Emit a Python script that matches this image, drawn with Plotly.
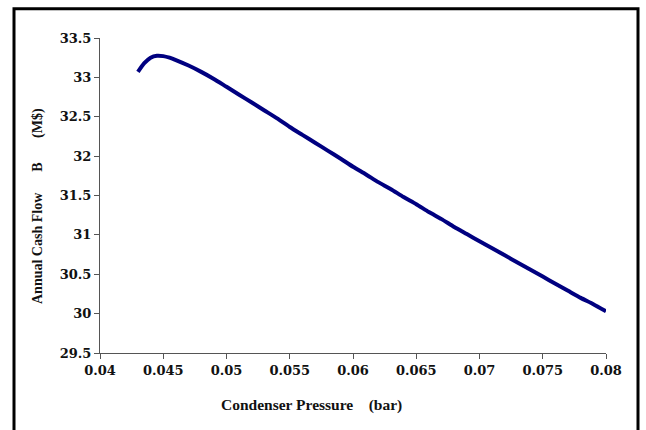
import plotly.graph_objects as go

# Data
pressure_bar = [0.0430, 0.0435, 0.0440, 0.0445, 0.0450, 0.0455, 0.0460, 0.0470, 0.0480,
                0.0490, 0.0500, 0.0510, 0.0520, 0.0530, 0.0540, 0.0550, 0.0560, 0.0570,
                0.0580, 0.0590, 0.0600, 0.0610, 0.0620, 0.0630, 0.0640, 0.0650, 0.0660,
                0.0670, 0.0680, 0.0690, 0.0700, 0.0710, 0.0720, 0.0730, 0.0740, 0.0750,
                0.0760, 0.0770, 0.0780, 0.0790, 0.0800]
cash_flow_musd = [33.07, 33.18, 33.25, 33.275, 33.27, 33.25, 33.22, 33.15, 33.07,
                  32.98, 32.88, 32.78, 32.68, 32.58, 32.48, 32.37, 32.27, 32.17,
                  32.07, 31.97, 31.865, 31.77, 31.67, 31.58, 31.48, 31.39, 31.29,
                  31.20, 31.10, 31.01, 30.92, 30.83, 30.74, 30.65, 30.56, 30.47,
                  30.38, 30.29, 30.20, 30.12, 30.03]

x_title = "Condenser Pressure\u00a0\u00a0\u00a0\u00a0(bar)"
y_title = "Annual Cash Flow\u00a0\u00a0\u00a0\u00a0\u00a0\u00a0B\u00a0\u00a0\u00a0\u00a0\u00a0\u00a0\u00a0(M$)"

W, H = 646, 430
L, R, T, B = 100, 40, 38, 77
pw, ph = W - L - R, H - T - B

def px_to_paper_x(px):
    return (px - L) / pw

def px_to_paper_y(py):
    return (H - B - py) / ph

fig = go.Figure()
fig.add_trace(go.Scatter(
    x=pressure_bar, y=cash_flow_musd, mode="lines",
    line=dict(color="#000080", width=4, shape="spline", smoothing=0.6),
    showlegend=False, hoverinfo="skip"))

tickfont = dict(family="DejaVu Serif", size=13, color="#111111", weight="bold")
axis_common = dict(showgrid=False, zeroline=False, showline=True, linecolor="#555555",
                   linewidth=1, ticks="outside", ticklen=5, tickcolor="#555555",
                   tickwidth=1, tickfont=tickfont, mirror=False)

fig.update_xaxes(range=[0.04, 0.08], tick0=0.04, dtick=0.005, **axis_common)
fig.update_yaxes(range=[29.5, 33.5], tick0=29.5, dtick=0.5, **axis_common)

fig.update_layout(
    width=W, height=H,
    margin=dict(l=L, r=R, t=T, b=B, autoexpand=False),
    paper_bgcolor="white", plot_bgcolor="white",
    annotations=[
        dict(text=x_title, xref="paper", yref="paper",
             x=px_to_paper_x(311), y=px_to_paper_y(405),
             xanchor="center", yanchor="middle", showarrow=False,
             font=dict(family="Liberation Serif", size=15.5, color="#111111", weight="bold")),
        dict(text=y_title, xref="paper", yref="paper",
             x=px_to_paper_x(38), y=px_to_paper_y(206),
             xanchor="center", yanchor="middle", showarrow=False, textangle=-90,
             font=dict(family="Liberation Serif", size=14, color="#111111", weight="bold")),
    ],
    shapes=[
        dict(type="rect", xref="paper", yref="paper",
             x0=px_to_paper_x(14), x1=px_to_paper_x(638),
             y0=px_to_paper_y(440), y1=px_to_paper_y(8.7),
             line=dict(color="black", width=3), fillcolor="rgba(0,0,0,0)", layer="above"),
    ],
)

fig.write_html("out.html", config={"displayModeBar": False},
               post_script="document.body.style.margin='0';document.body.style.overflow='hidden';")
